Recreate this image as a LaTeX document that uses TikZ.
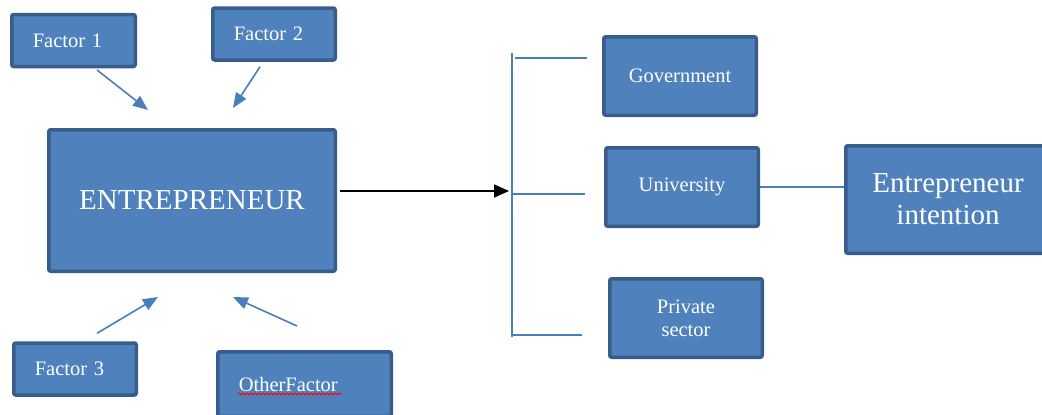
\documentclass[tikz,border=0pt]{standalone}
\usepackage{fontspec}
\setmainfont{Liberation Serif}
\usetikzlibrary{arrows.meta,decorations.pathmorphing}

\definecolor{boxfill}{RGB}{79,129,189}
\definecolor{boxborder}{RGB}{56,93,138}
\definecolor{linkblue}{RGB}{74,126,187}

\tikzset{
	mainbox/.style={draw=boxborder, line width=3.5pt, fill=boxfill, rounded corners=2pt, text=white, align=center, inner sep=2pt},
	factorbox/.style={mainbox, align=left, inner xsep=21pt, text width=#1, minimum height=52pt},
	smallfont/.style={font=\fontsize{20.5}{23}\selectfont},
	bigfont/.style={font=\fontsize{29}{32}\selectfont},
	factorarrow/.style={draw=linkblue, line width=1.6pt, -{Triangle[length=15pt,width=12pt]}},
	bracketline/.style={draw=linkblue, line width=1.4pt},
	spellmark/.style={draw=red, line width=0.8pt, decorate, decoration={snake, amplitude=1.1pt, segment length=4pt}}
}

\begin{document}
\begin{tikzpicture}[x=1pt,y=1pt,yscale=-1,xscale=1]
		% Set diagram size to the one of the reference
		\useasboundingbox (0,0) rectangle (1042,415);

		% Draw the four factor boxes
		\node[factorbox=81.5pt, smallfont] (f1) at (73.5,40.5) {Factor 1};
		\node[factorbox=80.5pt, smallfont] (f2) at (274,34) {Factor 2};
		\node[factorbox=80.5pt, smallfont] (f3) at (75,369) {Factor 3};
		\node[factorbox=131.5pt, smallfont, minimum height=64.5pt] (of) at (304.5,384) {OtherFactor};

		% Draw the red wavy line below "OtherFactor"
		\draw[spellmark] (238,394) -- (342,394);

		% Draw the central box
		\node[mainbox, bigfont, minimum width=286.5pt, minimum height=141.5pt] (ent) at (192,200.5) {ENTREPRENEUR};

		% Draw the three boxes to the right of the bracket
		\node[mainbox, smallfont, minimum width=152.5pt, minimum height=78.5pt] (gov) at (680,76) {Government};
		\node[mainbox, smallfont, minimum width=152.5pt, minimum height=78.5pt] (uni) at (682,187) {University};
		\node[mainbox, smallfont, minimum width=152.5pt, minimum height=78.5pt] (priv) at (686,318) {Private\\sector};

		% Draw the box at the right border
		\node[mainbox, bigfont, minimum width=204.5pt, minimum height=107.5pt] (ei) at (948,199.5) {Entrepreneur\\intention};

		% The tips of the factor arrows
		\coordinate (t1) at (148,110);
		\coordinate (t2) at (233,108);
		\coordinate (t3) at (158,297);
		\coordinate (t4) at (233,297);

		% Draw the arrows from the factors towards the central box
		\draw[factorarrow] ([xshift=23.5pt,yshift=1.75pt]f1.south) -- (t1);
		\draw[factorarrow] ([xshift=-14pt,yshift=5pt]f2.south) -- (t2);
		\draw[factorarrow] ([xshift=22pt,yshift=-8pt]f3.north) -- (t3);
		\draw[factorarrow] ([xshift=-7.5pt,yshift=-24pt]of.north) -- (t4);

		% The bracket in front of the three boxes
		\coordinate (brtop) at (512,53);
		\coordinate (brmid) at (512,191);
		\coordinate (brbot) at (512,337);

		% Draw the black arrow from the central box to the bracket
		\draw[black, line width=1.8pt, -{Triangle[length=15pt,width=13pt]}] ([xshift=3pt,yshift=-9.5pt]ent.east) -- ([xshift=-3pt]brmid);

		% Draw the vertical line and the small horizontal lines of the bracket
		\draw[bracketline] (brtop) -- (brbot);
		\draw[bracketline] (515,58) -- (587,58);
		\draw[bracketline] (512,194) -- (585,194);
		\draw[bracketline] (512,335) -- (582,335);

		% Draw the line from University to Entrepreneur intention
		\draw[bracketline] (uni.east) -- (ei.west |- uni.east);
	\end{tikzpicture}
\end{document}
